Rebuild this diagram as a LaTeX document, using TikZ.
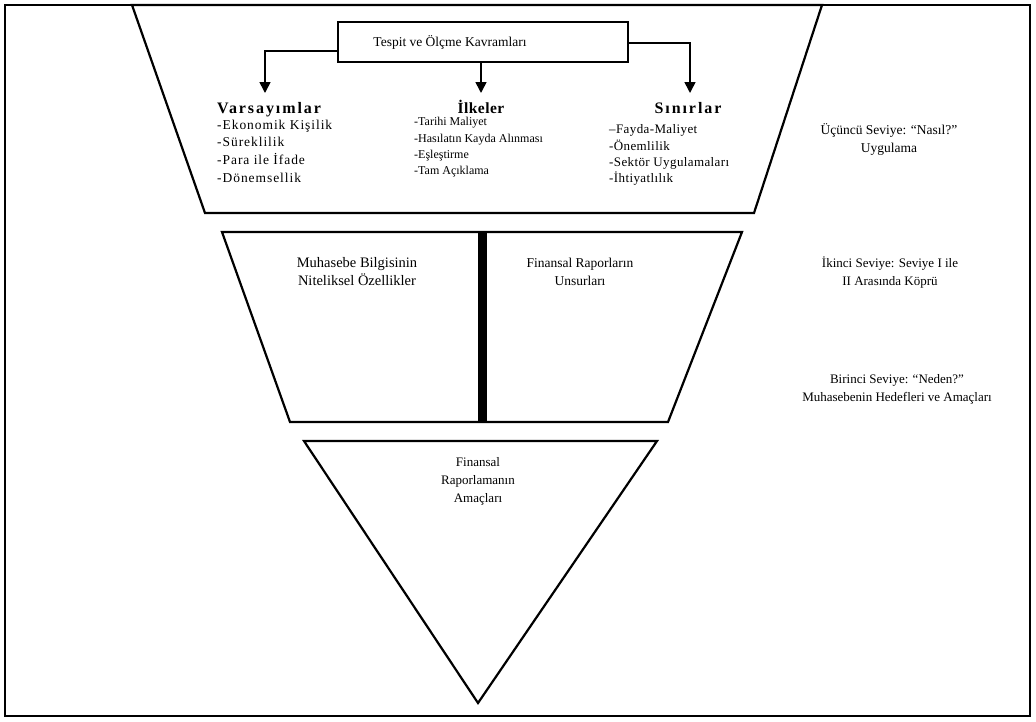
\documentclass[tikz,border=0pt]{standalone}
\usepackage{fontspec}
\setmainfont{Liberation Serif}
\usetikzlibrary{arrows.meta}
\begin{document}
\begin{tikzpicture}[x=1pt,y=-1pt,
  frame/.style={line width=1.6pt},
  levelshape/.style={line width=2.2pt, line join=miter},
  conn/.style={line width=1.6pt,-{Triangle[length=11pt,width=11pt]}},
  hdr/.style={font=\fontsize{16}{16}\selectfont\bfseries\addfontfeature{LetterSpace=12}, inner sep=0pt, anchor=base},
  itemA/.style={font=\fontsize{13.5}{16}\selectfont\addfontfeature{LetterSpace=7}, anchor=base west, inner sep=0pt},
  itemB/.style={font=\fontsize{12}{16}\selectfont, anchor=base west, inner sep=0pt},
  itemC/.style={font=\fontsize{13}{16}\selectfont\addfontfeature{LetterSpace=3}, anchor=base west, inner sep=0pt},
  lbl/.style={font=\fontsize{13}{18}\selectfont, align=center, inner sep=0pt},
  boxlbl/.style={draw, line width=1.4pt, minimum width=290pt, minimum height=40pt, font=\fontsize{13.5}{16}\selectfont, inner sep=0pt}
]
\useasboundingbox (0,0) rectangle (1036,721);
\draw[frame] (5,5) rectangle (1030,716);

% level shapes
\draw[levelshape] (132,5) -- (822,5) -- (754,213) -- (205,213) -- cycle;
\draw[levelshape] (222,232) -- (742,232) -- (668,422) -- (290,422) -- cycle;
\draw[levelshape] (304,441) -- (657,441) -- (478,703) -- cycle;
\fill (478,232) rectangle (487,422);

% top box and arrows
\node[boxlbl] (box) at (483,42) {Tespit ve Ölçme Kavramları\kern 66pt};
\coordinate (a1) at (265,93);
\coordinate (a2) at (481,93);
\coordinate (a3) at (690,93);
\draw[conn] ([yshift=-9pt]box.west) -| (a1);
\draw[conn] (box.south -| a2) -- (a2);
\draw[conn] ([yshift=-1pt]box.east) -| (a3);

% headers
\node[hdr] (h1) at (269,113) {Varsayımlar};
\node[hdr, font=\fontsize{15.5}{16}\selectfont\bfseries\addfontfeature{LetterSpace=3}] (h2) at (481,113) {İlkeler};
\node[hdr] (h3) at (688,113) {Sınırlar};

% column 1
\node[itemA] (v1) at (217,129) {-Ekonomik Kişilik};
\node[itemA] (v2) at (217,146) {-Süreklilik};
\node[itemA] (v3) at (217,164) {-Para ile İfade};
\node[itemA] (v4) at (217,182) {-Dönemsellik};
% column 2
\node[itemB] (i1) at (414,125) {-Tarihi Maliyet};
\node[itemB] (i2) at (414,142) {-Hasılatın Kayda Alınması};
\node[itemB] (i3) at (414,158) {-Eşleştirme};
\node[itemB] (i4) at (414,174) {-Tam Açıklama};
% column 3
\node[itemC] (s1) at (609,133) {–Fayda-Maliyet};
\node[itemC] (s2) at (609,150) {-Önemlilik};
\node[itemC] (s3) at (609,166) {-Sektör Uygulamaları};
\node[itemC] (s4) at (609,182) {-İhtiyatlılık};

% middle level texts
\node[lbl, font=\fontsize{14.5}{18}\selectfont] (m1) at (357,272) {Muhasebe Bilgisinin\\Niteliksel Özellikler};
\node[lbl, font=\fontsize{13.5}{18}\selectfont] (m2) at (580,272) {Finansal Raporların\\Unsurları};
% bottom
\node[lbl] (b1) at (478,481) {Finansal\\Raporlamanın\\Amaçları};

% right labels
\node[lbl, font=\fontsize{13.5}{18}\selectfont] (r1) at (889,139) {Üçüncü Seviye: “Nasıl?”\\Uygulama};
\node[lbl] (r2) at (890,273) {İkinci Seviye: Seviye I ile\\II Arasında Köprü};
\node[lbl] (r3) at (897,389) {Birinci Seviye: “Neden?”\\Muhasebenin Hedefleri ve Amaçları};
\end{tikzpicture}
\end{document}
